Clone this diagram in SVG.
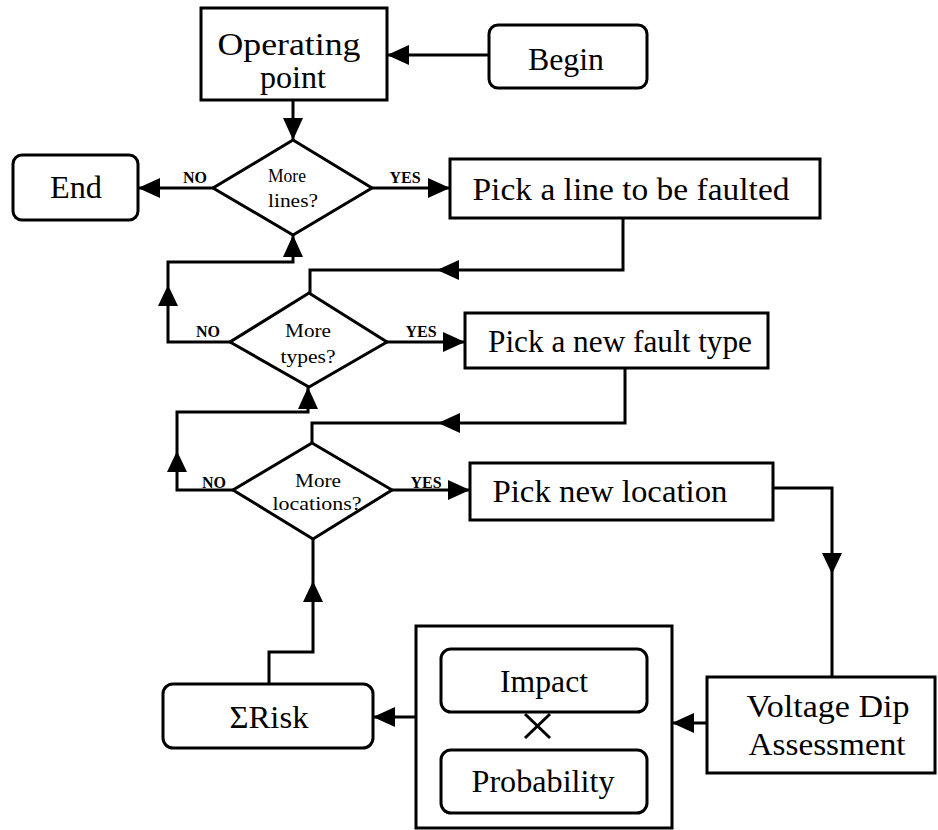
<svg xmlns="http://www.w3.org/2000/svg" width="938" height="830" viewBox="0 0 938 830">
<style>
.box{fill:#fff;stroke:#000;stroke-width:3}
.ln{fill:none;stroke:#000;stroke-width:3}
.ah{fill:#000;stroke:none}
.t{font-family:"Liberation Serif","Times New Roman",serif;font-size:32px;fill:#000;text-anchor:middle}
.s{font-family:"Liberation Serif","Times New Roman",serif;font-size:18px;fill:#000;text-anchor:middle}
.yn{font-family:"Liberation Serif","Times New Roman",serif;font-size:16px;font-weight:bold;fill:#000;text-anchor:middle}
</style>
<defs>
<marker id="arr" markerUnits="userSpaceOnUse" markerWidth="22" markerHeight="20" refX="22" refY="10" orient="auto">
<path d="M0,0 L22,10 L0,20 z" fill="#000"/>
</marker>
</defs>
<rect width="938" height="830" fill="#fff"/>
<g id="connectors">
<line class="ln" x1="489" y1="55" x2="387" y2="55" marker-end="url(#arr)"/>
<line class="ln" x1="293" y1="100" x2="293" y2="140" marker-end="url(#arr)"/>
<line class="ln" x1="213" y1="188" x2="138" y2="188" marker-end="url(#arr)"/>
<line class="ln" x1="372" y1="188" x2="450" y2="188" marker-end="url(#arr)"/>
<polyline class="ln" points="623,218 623,270 310,270 310,293"/>
<polygon class="ah" points="437,270 459,260 459,280"/>
<polyline class="ln" points="230,342 168,342 168,262 293,262 293,235" marker-end="url(#arr)"/>
<polygon class="ah" points="168,285 158,306 178,306"/>
<line class="ln" x1="387" y1="342" x2="465" y2="342" marker-end="url(#arr)"/>
<polyline class="ln" points="625,368 625,423 312,423 312,443"/>
<polygon class="ah" points="438,423 460,413 460,433"/>
<polyline class="ln" points="233,490 177,490 177,412 308,412 308,387" marker-end="url(#arr)"/>
<polygon class="ah" points="177,451 167,472 187,472"/>
<line class="ln" x1="392" y1="490" x2="470" y2="490" marker-end="url(#arr)"/>
<polyline class="ln" points="773,488 832,488 832,677"/>
<polygon class="ah" points="832,574 822,553 842,553"/>
<line class="ln" x1="707" y1="723" x2="672" y2="723" marker-end="url(#arr)"/>
<line class="ln" x1="416" y1="717" x2="373" y2="717" marker-end="url(#arr)"/>
<polyline class="ln" points="269,684 269,652 313,652 313,539"/>
<polygon class="ah" points="313,581 303,602 323,602"/>
</g>
<g id="operating">
<rect class="box" x="201" y="8" width="186" height="92"/>
<text class="t" x="289" y="55" textLength="143" lengthAdjust="spacingAndGlyphs">Operating</text>
<text class="t" x="293" y="88" textLength="66" lengthAdjust="spacingAndGlyphs">point</text>
</g>
<g id="begin">
<rect class="box" x="489" y="25" width="158" height="63" rx="9"/>
<text class="t" x="566" y="70" textLength="76" lengthAdjust="spacingAndGlyphs">Begin</text>
</g>
<g id="end">
<rect class="box" x="13" y="155" width="125" height="65" rx="9"/>
<text class="t" x="76" y="198" textLength="52" lengthAdjust="spacingAndGlyphs">End</text>
</g>
<g id="d1">
<polygon class="box" points="293,140 372,188 293,235 213,188"/>
<text class="s" x="287" y="182" textLength="38" lengthAdjust="spacingAndGlyphs">More</text>
<text class="s" x="293" y="207" textLength="50" lengthAdjust="spacingAndGlyphs">lines?</text>
<text class="yn" x="195" y="183">NO</text>
<text class="yn" x="405" y="183">YES</text>
</g>
<g id="pickline">
<rect class="box" x="450" y="159" width="370" height="59"/>
<text class="t" x="631" y="200" textLength="317" lengthAdjust="spacingAndGlyphs">Pick a line to be faulted</text>
</g>
<g id="d2">
<polygon class="box" points="309,293 387,342 309,387 230,342"/>
<text class="s" x="308" y="337" textLength="46" lengthAdjust="spacingAndGlyphs">More</text>
<text class="s" x="308" y="363" textLength="55" lengthAdjust="spacingAndGlyphs">types?</text>
<text class="yn" x="208" y="337">NO</text>
<text class="yn" x="421" y="337">YES</text>
</g>
<g id="picktype">
<rect class="box" x="465" y="313" width="303" height="55"/>
<text class="t" x="620" y="352" textLength="264" lengthAdjust="spacingAndGlyphs">Pick a new fault type</text>
</g>
<g id="d3">
<polygon class="box" points="312,443 392,490 313,539 233,490"/>
<text class="s" x="318" y="487" textLength="46" lengthAdjust="spacingAndGlyphs">More</text>
<text class="s" x="317" y="510" textLength="89" lengthAdjust="spacingAndGlyphs">locations?</text>
<text class="yn" x="214" y="488">NO</text>
<text class="yn" x="426" y="488">YES</text>
</g>
<g id="pickloc">
<rect class="box" x="470" y="463" width="303" height="57"/>
<text class="t" x="610" y="502" textLength="235" lengthAdjust="spacingAndGlyphs">Pick new location</text>
</g>
<g id="voltage">
<rect class="box" x="707" y="677" width="228" height="96"/>
<text class="t" x="828" y="717" textLength="163" lengthAdjust="spacingAndGlyphs">Voltage Dip</text>
<text class="t" x="827" y="755" textLength="157" lengthAdjust="spacingAndGlyphs">Assessment</text>
</g>
<g id="riskbox">
<rect class="box" x="416" y="626" width="256" height="202"/>
</g>
<g id="impact">
<rect class="box" x="441" y="649" width="206" height="63" rx="10"/>
<text class="t" x="544" y="692" textLength="88" lengthAdjust="spacingAndGlyphs">Impact</text>
</g>
<g id="times">
<line class="ln" x1="525" y1="714" x2="550" y2="738"/>
<line class="ln" x1="550" y1="714" x2="525" y2="738"/>
</g>
<g id="probability">
<rect class="box" x="441" y="750" width="206" height="63" rx="10"/>
<text class="t" x="543" y="792" textLength="143" lengthAdjust="spacingAndGlyphs">Probability</text>
</g>
<g id="sumrisk">
<rect class="box" x="163" y="684" width="210" height="64" rx="10"/>
<text class="t" x="269" y="728" textLength="79" lengthAdjust="spacingAndGlyphs">ΣRisk</text>
</g>
</svg>
